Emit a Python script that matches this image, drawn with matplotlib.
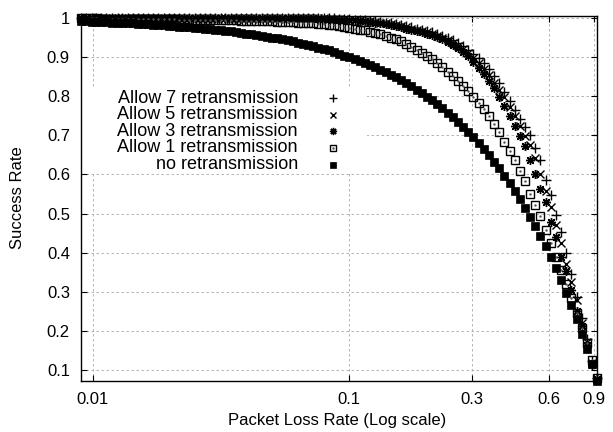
import matplotlib
matplotlib.use('Agg')
import matplotlib.pyplot as plt
from matplotlib.patches import Rectangle
from matplotlib.ticker import NullLocator

plt.rcParams['font.family'] = ['Liberation Sans', 'DejaVu Sans']
plt.rcParams['font.size'] = 12

# packet loss rate (x) shared by all series
loss_rate = [0.0090, 0.0094, 0.0099, 0.0103, 0.0108, 0.0113, 0.0119, 0.0125, 0.0130, 0.0137,
             0.0143, 0.0150, 0.0157, 0.0164, 0.0172, 0.0180, 0.0189, 0.0198, 0.0207, 0.0217,
             0.0227, 0.0238, 0.0250, 0.0261, 0.0274, 0.0287, 0.0300, 0.0315, 0.0329, 0.0345,
             0.0361, 0.0379, 0.0397, 0.0415, 0.0435, 0.0456, 0.0477, 0.0500, 0.0524, 0.0549,
             0.0575, 0.0602, 0.0630, 0.0660, 0.0692, 0.0724, 0.0759, 0.0795, 0.0833, 0.0872,
             0.0914, 0.0957, 0.1002, 0.1050, 0.1100, 0.1152, 0.1206, 0.1263, 0.1323, 0.1386,
             0.1452, 0.1521, 0.1593, 0.1669, 0.1748, 0.1831, 0.1918, 0.2009, 0.2104, 0.2204,
             0.2308, 0.2418, 0.2533, 0.2653, 0.2778, 0.2910, 0.3048, 0.3193, 0.3344, 0.3503,
             0.3669, 0.3843, 0.4026, 0.4217, 0.4417, 0.4626, 0.4846, 0.5076, 0.5316, 0.5569,
             0.5833, 0.6109, 0.6400, 0.6703, 0.7021, 0.7354, 0.7704, 0.8069, 0.8451, 0.8853,
             0.9273]

allow_7 = [1.000, 1.000, 1.000, 1.000, 1.000, 1.000, 1.000, 1.000, 1.000, 1.000,
           1.000, 1.000, 1.000, 1.000, 1.000, 1.000, 1.000, 1.000, 1.000, 1.000,
           1.000, 1.000, 1.000, 1.000, 1.000, 1.000, 1.000, 1.000, 1.000, 1.000,
           1.000, 1.000, 1.000, 1.000, 1.000, 1.000, 1.000, 1.000, 1.000, 1.000,
           1.000, 0.999, 0.999, 0.999, 0.999, 0.999, 0.999, 0.999, 0.999, 0.999,
           0.998, 0.998, 0.997, 0.996, 0.995, 0.994, 0.993, 0.991, 0.990, 0.988,
           0.986, 0.984, 0.982, 0.979, 0.976, 0.973, 0.970, 0.967, 0.963, 0.959,
           0.954, 0.949, 0.943, 0.936, 0.928, 0.919, 0.909, 0.897, 0.884, 0.869,
           0.852, 0.833, 0.812, 0.789, 0.765, 0.742, 0.720, 0.700, 0.668, 0.636,
           0.585, 0.547, 0.497, 0.453, 0.398, 0.346, 0.286, 0.232, 0.180, 0.124,
           0.079]

allow_5 = [1.000, 1.000, 1.000, 1.000, 1.000, 1.000, 1.000, 1.000, 1.000, 1.000,
           1.000, 1.000, 1.000, 1.000, 1.000, 1.000, 1.000, 1.000, 1.000, 1.000,
           1.000, 1.000, 1.000, 1.000, 1.000, 1.000, 1.000, 1.000, 1.000, 1.000,
           1.000, 1.000, 1.000, 1.000, 0.999, 0.999, 0.999, 0.999, 0.999, 0.999,
           0.999, 0.999, 0.999, 0.999, 0.999, 0.999, 0.999, 0.999, 0.998, 0.998,
           0.997, 0.997, 0.996, 0.995, 0.994, 0.993, 0.992, 0.990, 0.988, 0.986,
           0.984, 0.982, 0.979, 0.976, 0.973, 0.970, 0.967, 0.964, 0.960, 0.955,
           0.950, 0.944, 0.937, 0.929, 0.920, 0.910, 0.898, 0.885, 0.870, 0.854,
           0.835, 0.815, 0.797, 0.772, 0.750, 0.724, 0.698, 0.675, 0.643, 0.600,
           0.558, 0.518, 0.471, 0.425, 0.372, 0.326, 0.279, 0.220, 0.172, 0.118,
           0.077]

allow_3 = [1.000, 1.000, 1.000, 1.000, 1.000, 1.000, 1.000, 1.000, 1.000, 1.000,
           1.000, 1.000, 1.000, 1.000, 1.000, 1.000, 1.000, 1.000, 1.000, 1.000,
           1.000, 1.000, 1.000, 1.000, 1.000, 1.000, 1.000, 1.000, 1.000, 1.000,
           1.000, 0.999, 0.999, 0.999, 0.999, 0.999, 0.999, 0.999, 0.999, 0.999,
           0.999, 0.999, 0.999, 0.999, 0.999, 0.999, 0.998, 0.998, 0.997, 0.997,
           0.996, 0.996, 0.995, 0.994, 0.993, 0.991, 0.990, 0.988, 0.986, 0.984,
           0.982, 0.979, 0.976, 0.973, 0.970, 0.967, 0.963, 0.960, 0.956, 0.951,
           0.945, 0.938, 0.931, 0.922, 0.912, 0.902, 0.888, 0.873, 0.857, 0.840,
           0.820, 0.798, 0.775, 0.750, 0.724, 0.697, 0.672, 0.638, 0.602, 0.564,
           0.529, 0.478, 0.440, 0.390, 0.352, 0.304, 0.252, 0.213, 0.165, 0.112,
           0.076]

allow_1 = [0.999, 0.999, 0.999, 0.999, 0.998, 0.998, 0.998, 0.998, 0.998, 0.998,
           0.998, 0.998, 0.997, 0.997, 0.997, 0.997, 0.997, 0.997, 0.997, 0.996,
           0.996, 0.996, 0.996, 0.996, 0.996, 0.995, 0.995, 0.995, 0.994, 0.994,
           0.994, 0.993, 0.993, 0.993, 0.992, 0.991, 0.991, 0.991, 0.990, 0.990,
           0.990, 0.989, 0.988, 0.987, 0.986, 0.986, 0.984, 0.984, 0.982, 0.981,
           0.979, 0.977, 0.975, 0.973, 0.970, 0.968, 0.964, 0.962, 0.958, 0.954,
           0.950, 0.945, 0.940, 0.933, 0.926, 0.919, 0.911, 0.903, 0.894, 0.885,
           0.874, 0.863, 0.852, 0.840, 0.827, 0.813, 0.798, 0.783, 0.767, 0.749,
           0.729, 0.709, 0.684, 0.660, 0.636, 0.610, 0.582, 0.551, 0.523, 0.493,
           0.459, 0.425, 0.390, 0.355, 0.319, 0.283, 0.246, 0.208, 0.168, 0.125,
           0.079]

no_retx = [0.991, 0.991, 0.990, 0.990, 0.989, 0.989, 0.988, 0.988, 0.987, 0.986,
           0.986, 0.985, 0.984, 0.984, 0.983, 0.982, 0.981, 0.980, 0.979, 0.978,
           0.977, 0.976, 0.975, 0.974, 0.973, 0.971, 0.970, 0.969, 0.967, 0.966,
           0.964, 0.962, 0.960, 0.959, 0.957, 0.954, 0.952, 0.950, 0.948, 0.945,
           0.943, 0.940, 0.937, 0.934, 0.931, 0.928, 0.924, 0.921, 0.917, 0.913,
           0.909, 0.904, 0.900, 0.895, 0.890, 0.885, 0.879, 0.874, 0.868, 0.861,
           0.855, 0.848, 0.841, 0.833, 0.825, 0.817, 0.808, 0.799, 0.790, 0.780,
           0.769, 0.758, 0.747, 0.735, 0.722, 0.709, 0.695, 0.681, 0.666, 0.650,
           0.633, 0.616, 0.597, 0.578, 0.558, 0.537, 0.515, 0.492, 0.468, 0.443,
           0.417, 0.389, 0.360, 0.330, 0.298, 0.265, 0.230, 0.193, 0.155, 0.115,
           0.073]

x_ticks = [0.01, 0.1, 0.3, 0.6, 0.9]
x_tick_labels = ['0.01', '0.1', '0.3', '0.6', '0.9']
y_ticks = [0.1, 0.2, 0.3, 0.4, 0.5, 0.6, 0.7, 0.8, 0.9, 1.0]
y_tick_labels = ['0.1', '0.2', '0.3', '0.4', '0.5', '0.6', '0.7', '0.8', '0.9', '1']

labels = ['Allow 7 retransmission', 'Allow 5 retransmission', 'Allow 3 retransmission',
          'Allow 1 retransmission', 'no retransmission']

# marker styles, gnuplot-like
styles = [dict(marker='+', ms=7, mew=1.0, color='k'),
          dict(marker='x', ms=5.5, mew=1.0, color='k'),
          dict(marker=(8, 2, 0), ms=6.5, mew=1.0, color='k'),
          dict(marker='s', ms=5.2, mew=1.0, color='k', mfc='none'),
          dict(marker='s', ms=5.2, mew=0.5, color='k')]

fig = plt.figure(figsize=(6.13, 4.32), dpi=100)
ax = fig.add_axes([81 / 613, 1 - 381 / 432, 516 / 613, 365 / 432])

series = [allow_7, allow_5, allow_3, allow_1, no_retx]
for ys, st in zip(series, styles):
    ax.plot(loss_rate, ys, ls='none', clip_on=False, zorder=3, **st)
    if st['marker'] == 's' and st.get('mfc') == 'none':
        ax.plot(loss_rate, ys, ls='none', marker='.', ms=1.5, color='#555555',
                clip_on=False, zorder=3)

ax.set_xscale('log')
ax.set_xlim(0.009, 0.925)
ax.set_ylim(0.072, 1.005)
ax.set_xticks(x_ticks)
ax.set_xticklabels(x_tick_labels)
ax.set_yticks(y_ticks)
ax.set_yticklabels(y_tick_labels)
ax.xaxis.set_minor_locator(NullLocator())
ax.yaxis.set_minor_locator(NullLocator())
ax.tick_params(direction='in', length=4.5, width=0.8, top=True, right=True, pad=8)
for sp in ax.spines.values():
    sp.set_linewidth(1.0)

ax.set_axisbelow(True)
ax.grid(True, color='#a8a8a8', ls=(0, (3, 3)), lw=0.6)

# key box (opaque, no border) with right-aligned text
ax.add_patch(Rectangle((0.0, 0.57), 0.554, 0.235, transform=ax.transAxes,
                       facecolor='white', edgecolor='none', zorder=1))
for i, (lab, st) in enumerate(zip(labels, styles)):
    yk = 0.775 - i * 0.0455
    ax.text(0.4205, yk, lab, ha='right', va='center', fontsize=13,
            transform=ax.transAxes, zorder=4)
    key_st = dict(st)
    key_st['ms'] = st['ms'] * 0.8
    ax.plot([0.488], [yk], ls='none', transform=ax.transAxes, clip_on=False, zorder=4, **key_st)
    if st['marker'] == 's' and st.get('mfc') == 'none':
        ax.plot([0.488], [yk], ls='none', marker='.', ms=1.5, color='#555555',
                transform=ax.transAxes, zorder=4)

fig.text(18 / 613, 1 - 198 / 432, 'Success Rate', rotation=90, ha='center', va='center')
fig.text(337 / 613, 1 - 420 / 432, 'Packet Loss Rate (Log scale)', ha='center', va='center')

fig.savefig('out.png', dpi=100)
